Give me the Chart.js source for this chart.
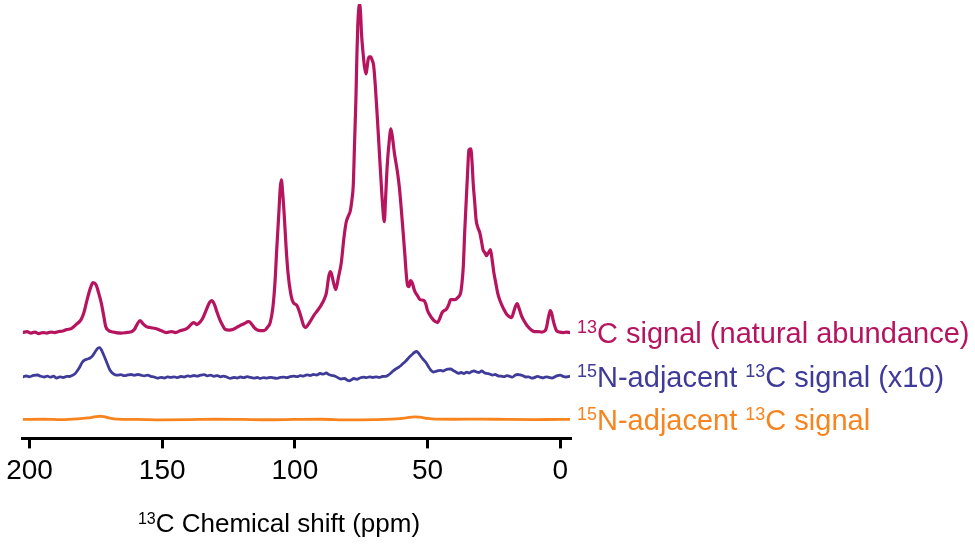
<!DOCTYPE html>
<html>
<head>
<meta charset="utf-8">
<script src="https://cdn.jsdelivr.net/npm/chart.js@4.4.1/dist/chart.umd.min.js"></script>
<style>
  html, body { margin: 0; padding: 0; background: #fff; }
  #wrap { width: 975px; height: 549px; position: relative; }
</style>
</head>
<body>
<div id="wrap"><canvas id="nmr"></canvas></div>
<script>
// 13C natural abundance trace (ppm, intensity a.u.)
const naturalPpm = [202.5, 201, 199.5, 198, 196.5, 195, 193.5, 192, 190.5, 189, 187.5, 186, 184.3, 182.5, 180.6, 179.5, 178.3, 177, 176.1, 175, 174, 173, 172, 171.3, 170.2, 169.4, 167.5, 165.5, 163.5, 162, 160.5, 159.5, 158.4, 157.3, 156, 154.6, 152.5, 150.5, 148.4, 146.5, 145, 143, 141.5, 140.2, 138.8, 138, 137, 136.3, 135, 133.5, 132.2, 131.3, 130.3, 129.3, 128.3, 127.2, 126.2, 124.8, 123.4, 122, 120.7, 119, 117.6, 117.2, 116.2, 115.3, 114.4, 113, 111.6, 110.4, 109.3, 108.3, 107.5, 106.8, 106.1, 105.5, 105.1, 104.6, 104, 103.3, 102.6, 101.5, 100.6, 99.2, 98.3, 97.4, 96.7, 96, 94.5, 92.9, 91.5, 90.2, 89, 88.1, 87.3, 86.7, 86.1, 85.6, 84.6, 83.6, 82.5, 81.5, 80.7, 79.8, 79.1, 78.5, 78, 77.5, 77, 76.6, 76.3, 75.9, 75.6, 75.2, 74.9, 74.3, 73.8, 73.2, 72.8, 72.4, 71.9, 71.4, 70.9, 70.3, 69.7, 69.1, 68.4, 67.7, 67, 66.3, 65.8, 65.2, 64.5, 63.8, 63.2, 62.5, 61.3, 60.6, 60, 59.3, 58.6, 57.9, 57.5, 57, 56.4, 55.8, 54.9, 53.8, 52.8, 51.3, 50.6, 50, 49, 47.9, 47, 46.2, 45.4, 44.5, 43.7, 43, 42, 41.3, 40.4, 39.6, 38.6, 37.5, 37, 36.5, 36, 35.4, 34.9, 34.4, 33.7, 33.2, 32.8, 32.2, 31.7, 31, 30.3, 29.7, 29.1, 28.4, 27.8, 27, 26.3, 25.6, 25, 24.3, 23.6, 22.7, 21.9, 21, 20.1, 19.2, 18.3, 17.6, 16.9, 16.2, 15.6, 14.6, 13.9, 13.2, 12.2, 11.1, 9.7, 8.4, 7, 5.6, 5, 4.6, 4.1, 3.7, 3.3, 2.7, 2, 1.4, 0.3, -1.3, -2.5, -3.5];
const naturalInt = [0, 1, -0.5, 0.5, -1, 0, -0.5, 0.5, 0, 1, 1.5, 3, 4, 8, 13, 20, 33, 45, 50, 48, 40, 30, 16, 6, 2, 1, 0, -0.5, 0, 0.5, 3, 8, 12, 9, 6, 5, 4, 2, 0, 1, 0, 2, 3, 5, 9, 10, 8, 9, 13, 22, 30, 32, 28, 20, 13, 7, 3, 2.5, 3, 5, 7, 9, 11, 11, 8, 5, 3, 2, 2, 5, 10, 25, 50, 85, 117, 145, 153, 140, 117, 85, 60, 38, 30, 27, 21, 13, 7, 5, 10, 17, 22, 27, 33, 40, 55, 61, 58, 52, 43, 55, 70, 95, 110, 117, 122, 133, 147, 190, 233, 280, 307, 325, 329, 318, 300, 280, 267, 259, 265, 273, 276, 276, 273, 267, 248, 223, 192, 160, 130, 111, 135, 167, 190, 204, 195, 180, 160, 145, 127, 104, 80, 55, 47, 46, 52, 50, 42, 37, 33, 32, 28, 22, 17, 13, 11, 10, 14, 20, 22, 23, 28, 33, 33, 33, 35, 40, 50, 67, 100, 133, 160, 183, 184, 170, 150, 130, 113, 105, 100, 92, 83, 80, 77, 80, 83, 72, 60, 50, 40, 32, 27, 22, 18, 16, 15, 20, 26, 29, 25, 17, 13, 10, 6, 3, 1, 1, 0.5, 2, 7, 13, 19, 22, 20, 13, 6, 2, 0.5, 0, 0.5, 0];

// 15N-adjacent 13C trace, scaled x10
const x10Ppm = [202.5, 201.3, 200, 198.5, 197, 195.8, 194.5, 193.3, 192.2, 191, 189.8, 188.6, 187.3, 186, 185, 184, 183, 182.2, 181.2, 180.2, 179.2, 178.2, 177.2, 176.2, 175.2, 174.2, 173.6, 173, 172.3, 171.5, 170.6, 169.8, 169, 168, 166.8, 165.6, 164.3, 163, 161.8, 160.5, 159.2, 158, 156.8, 155.5, 154.3, 153, 151.8, 150.5, 149.2, 148, 146.8, 145.5, 144.2, 143, 141.8, 140.5, 139.2, 138, 136.8, 135.5, 134.2, 133, 131.8, 130.5, 129.2, 128, 126.8, 125.5, 124.3, 123, 121.8, 120.5, 119.2, 118, 116.8, 115.5, 114.2, 113, 111.8, 110.5, 109.2, 108, 106.8, 105.5, 104.2, 103, 101.8, 100.5, 99.2, 98, 96.8, 95.5, 94.2, 93, 91.8, 90.5, 89.3, 88.2, 87.2, 86, 84.8, 83.6, 82.5, 81.3, 80.2, 79.5, 78.8, 77.8, 76.6, 75.5, 74.2, 73, 71.8, 70.6, 69.4, 68.2, 67, 65.8, 65, 64, 63, 62, 61, 60, 59, 58, 57, 56, 55, 54.1, 53.3, 52.5, 51.6, 50.6, 49.7, 48.8, 47.9, 47, 46, 45, 44.2, 43.3, 42.3, 41.3, 40.3, 39.3, 38.3, 37.3, 36.3, 35.3, 34.3, 33.3, 32.5, 31.5, 30.6, 29.6, 28.6, 27.6, 26.6, 25.5, 24.5, 23.4, 22.3, 21.2, 20.1, 19, 18, 17, 16, 15, 14, 13, 11.9, 10.8, 9.7, 8.6, 7.5, 6.4, 5.3, 4.2, 3.1, 2, 1, 0, -1, -2.2, -3.5];
const x10Int = [-0.5, 0.5, -0.3, 1, 1.5, 0.2, -0.5, 0.4, -0.7, 0.3, -1.5, -0.4, -1, 0.2, 0, 1, 2.5, 5, 9, 14, 16.5, 17.5, 18.5, 21, 25, 28.5, 29, 27, 23, 18, 12, 7, 4, 2, 1.3, 1.8, 0.8, 1.5, 2, 1.2, 2, 1.3, 0.6, 1.4, 0.2, -0.5, -1.7, -0.8, -1.5, -0.4, -0.9, -0.3, -1.2, 0, -0.5, 0.7, 0.2, 1, 0.4, 1.3, 1.8, 0.6, 1.4, 0.2, 0.9, -0.3, 0.4, -0.8, -1.8, -1, -1.5, -0.5, -1.1, -0.2, -0.9, -1.6, -1, -1.9, -1.2, -1.6, -0.8, -1.4, -1.8, -1, -0.6, -1.1, -0.2, 0.3, -0.2, 0.8, 0.4, 1.6, 1, 2, 1.5, 3, 2.3, 3.5, 2, 1, 0.3, -1.5, -2.5, -2, -3.8, -4.3, -3.5, -2, -2.8, -1.5, -0.6, -1.2, -0.4, -1, -0.3, -0.9, 0, 0.2, 1, 3, 5.5, 7.5, 9, 11, 13.5, 16, 19, 21.5, 24, 25, 23, 20, 17, 14, 10, 6.5, 4.5, 5, 5.8, 6.2, 5.5, 6.5, 7.3, 7.5, 6, 4.5, 3.2, 4, 3, 4.3, 3.5, 5, 5.5, 4.5, 4, 5.5, 3.8, 3, 2.5, 1.4, 2, 0.6, 0.3, -0.2, 0.8, 0.2, -0.7, 1.3, 2, 1.5, 0.8, -0.5, -0.3, -1.7, -1.2, 0.2, -0.8, -1.4, -0.3, -0.9, -1.6, -0.4, 0.9, 1.3, 0.2, -0.5, 0.2];

// 15N-adjacent 13C trace, unscaled
const adjPpm = [202.5, 195, 188, 182, 178, 175, 173.5, 172, 170, 167, 160, 150, 140, 130, 120, 110, 100, 90, 80, 70, 62, 58, 55, 53, 50, 47, 40, 30, 20, 10, 0, -3.5];
const adjInt = [0, 0.2, -0.2, 0.5, 1.5, 2.8, 3.2, 2.8, 1.5, 0.3, 0, -0.4, -0.2, 0.2, 0, -0.3, 0, 0.2, -0.5, -0.2, 0.5, 1.5, 2.5, 2.3, 1, 0.3, 0.2, 0.4, 0, -0.2, 0.1, 0];

const tickValues = [200, 150, 100, 50, 0];

// vertical stacking of the traces (display units above the axis)
const offsets = [106, 62, 19];
const colors = ['#b7145f', '#3f3b98', '#f7841f'];
const traceLabels = [
  [{ sup: '13' }, 'C signal (natural abundance)'],
  [{ sup: '15' }, 'N-adjacent ', { sup: '13' }, 'C signal (x10)'],
  [{ sup: '15' }, 'N-adjacent ', { sup: '13' }, 'C signal']
];
const axisTitle = [{ sup: '13' }, 'C Chemical shift (ppm)'];

const FONT = "'Liberation Sans', Arial, sans-serif";

function toPoints(ppm, vals, off) {
  return ppm.map((p, i) => ({ x: p, y: vals[i] + off }));
}

// draws a run of text where { sup } pieces are raised and smaller
function drawRich(ctx, pieces, x, y, size, color, align) {
  const supSize = Math.round(size * 0.62);
  const widths = pieces.map(p => {
    ctx.font = (typeof p === 'string' ? size : supSize) + 'px ' + FONT;
    return ctx.measureText(typeof p === 'string' ? p : p.sup).width;
  });
  const total = widths.reduce((a, b) => a + b, 0);
  let cx = align === 'center' ? x - total / 2 : x;
  ctx.fillStyle = color;
  ctx.textAlign = 'left';
  ctx.textBaseline = 'alphabetic';
  pieces.forEach((p, i) => {
    if (typeof p === 'string') {
      ctx.font = size + 'px ' + FONT;
      ctx.fillText(p, cx, y + size * 0.36);
    } else {
      ctx.font = supSize + 'px ' + FONT;
      ctx.fillText(p.sup, cx, y + size * 0.36 - size * 0.33);
    }
    cx += widths[i];
  });
}

const labelPlugin = {
  id: 'traceLabels',
  afterDraw(chart) {
    const ctx = chart.ctx;
    const yScale = chart.scales.y;
    const area = chart.chartArea;
    ctx.save();
    traceLabels.forEach((pieces, i) => {
      drawRich(ctx, pieces, area.right + 7, yScale.getPixelForValue(offsets[i]), 29, colors[i], 'left');
    });
    drawRich(ctx, axisTitle, 279, 523, 26, '#000', 'center');
    ctx.restore();
  }
};

new Chart(document.getElementById('nmr'), {
  type: 'line',
  data: {
    datasets: [
      { data: toPoints(naturalPpm, naturalInt, offsets[0]), borderColor: colors[0], borderWidth: 3.2 },
      { data: toPoints(x10Ppm, x10Int, offsets[1]), borderColor: colors[1], borderWidth: 2.8 },
      { data: toPoints(adjPpm, adjInt, offsets[2]), borderColor: colors[2], borderWidth: 2.8 }
    ]
  },
  options: {
    responsive: true,
    maintainAspectRatio: false,
    animation: false,
    layout: { padding: { left: 17, right: 405, top: 4, bottom: 55 } },
    elements: {
      point: { radius: 0 },
      line: { cubicInterpolationMode: 'monotone', borderJoinStyle: 'round', borderCapStyle: 'round' }
    },
    plugins: { legend: { display: false }, tooltip: { enabled: false } },
    scales: {
      x: {
        type: 'linear',
        reverse: true,
        min: -3.7,
        max: 202.5,
        afterBuildTicks: scale => { scale.ticks = tickValues.map(v => ({ value: v })); },
        grid: { drawOnChartArea: false, drawTicks: true, tickLength: 10, color: '#000', lineWidth: 3 },
        border: { display: true, color: '#000', width: 3 },
        ticks: { color: '#000', font: { size: 28, family: FONT }, padding: 6, maxRotation: 0, autoSkip: false }
      },
      y: { display: false, min: 0, max: 435 }
    }
  },
  plugins: [labelPlugin]
});
</script>
</body>
</html>
